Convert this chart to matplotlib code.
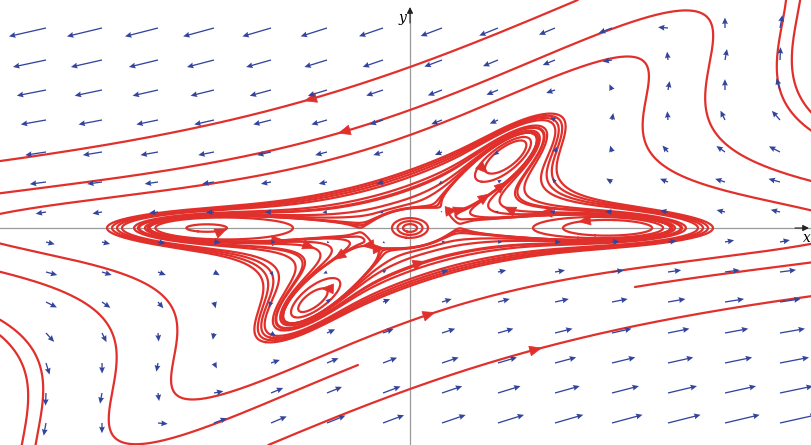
import numpy as np
import matplotlib
matplotlib.use("Agg")
import matplotlib.pyplot as plt

# --- values (data units: 50 px = 1) ---
x_range = [-8.2, 8.04]
y_range = [-4.34, 4.56]

# the two "arms" of the portrait: x-axis and the line y = arm_slope * x
arm_slope = 0.78
coef_x4 = 0.0021
coef_y4 = 0.0886

# the five islands (centres)
well_x = [0.0, -4.6, 4.6, 2.17, -2.17]
well_y = [0.0, 0.0, 0.0, 1.69, -1.69]
well_depth = [0.6, 1.8, 1.8, 1.4, 1.4]
well_long = [0.45, 1.7, 1.7, 1.0, 1.0]
well_wide = [0.25, 0.42, 0.42, 0.5, 0.5]
well_angle = [0.0, 0.0, 0.0, 38.0, 38.0]

# drawn trajectories: a point on each, and how far it runs back / forward
# (None = to the edge of the picture or all the way round)
orbit_x = [0.0, 0.0, 0.0, -1.04, 4.5, 0.0, 0.0, 7.35, -7.35, 7.64, -7.64,
           0.26,
           -6.06, -5.96, -5.86, -5.76,
           -3.66, -2.34, 3.06, 2.46, 1.5, 1.3, -1.66, -1.4,
           0.14, 0.25, 0.36,
           0.8, 1.3, 1.8, 2.3,
           -1.0, -1.6, -2.15]
orbit_y = [3.22, -3.22, 2.36, -2.74, -1.18, 1.86, -1.86, 3.5, -3.5, 3.5, -3.5,
           -0.68,
           0.0, 0.0, 0.0, 0.0,
           0.0, 0.0, 0.0, 0.0, 1.2, 1.06, -1.24, -1.08,
           0.0, 0.0, 0.0,
           0.25, 0.44, 0.6, 0.72,
           -0.32, -0.55, -0.69]
orbit_back = [None, None, None, None, 0.0] + [None] * 29
orbit_fwd = [None, None, None, 0.0, None] + [None] * 29

# where the arrowheads sit on the trajectories
head_x = [-2.06, -1.4, 0.26, 0.44, 2.54, -3.66, -2.56, -1.96, -1.74, -1.4,
          3.4, 2.64, 1.94, 1.5, 1.56, 1.0, -0.54, 0.9, -0.9, 1.9]
head_y = [2.5, 1.9, -0.68, -1.62, -2.18, -0.1, -0.2, -0.44, -1.24, -0.74,
          0.16, 0.3, 0.46, 0.76, 1.16, 0.62, -0.38, 0.45, -0.55, 0.9]

# direction field grid
field_x = [-7.28, -6.16, -5.04, -3.92, -2.78, -1.66, -0.54,
           0.64, 1.76, 2.9, 4.04, 5.16, 6.3, 7.4]
field_y = [4.0, 3.36, 2.76, 2.16, 1.52, 0.92, 0.32,
           -0.28, -0.88, -1.48, -2.1, -2.7, -3.3, -3.9]

red = "#e1302b"
blue = "#33449c"


def energy(x, y):
    p = y * (y - arm_slope * x)
    h = p ** 2 + coef_x4 * x ** 4 + coef_y4 * y ** 4
    for cx, cy, d, a, b, ang in zip(well_x, well_y, well_depth,
                                    well_long, well_wide, well_angle):
        t = np.radians(ang)
        u = (x - cx) * np.cos(t) + (y - cy) * np.sin(t)
        v = -(x - cx) * np.sin(t) + (y - cy) * np.cos(t)
        h = h - d * np.exp(-(u / a) ** 2 - (v / b) ** 2)
    return h


def flow(x, y, eps=1e-4):
    hx = (energy(x + eps, y) - energy(x - eps, y)) / (2 * eps)
    hy = (energy(x, y + eps) - energy(x, y - eps)) / (2 * eps)
    return -hy, hx


# level curves of the energy = trajectories
gx = np.linspace(x_range[0], x_range[1], 1400)
gy = np.linspace(y_range[0], y_range[1], 780)
GX, GY = np.meshgrid(gx, gy)
GH = energy(GX, GY)
orbit_level = energy(np.array(orbit_x), np.array(orbit_y))
uniq = np.unique(orbit_level)
tmp = plt.figure()
allsegs = tmp.add_subplot().contour(GX, GY, GH, levels=uniq).allsegs
plt.close(tmp)

paths = []
for k in range(len(orbit_x)):
    sx, sy = orbit_x[k], orbit_y[k]
    segs = allsegs[int(np.searchsorted(uniq, orbit_level[k]))]
    best = None
    for s in segs:
        if len(s) < 2:
            continue
        d = np.hypot(s[:, 0] - sx, s[:, 1] - sy)
        if best is None or d.min() < best[0]:
            best = (d.min(), s, int(d.argmin()))
    _, s, i = best
    s = s.copy()
    j0, j1 = max(i - 1, 0), min(i + 1, len(s) - 1)
    tu, tv = s[j1] - s[j0]
    fu, fv = flow(sx, sy)
    if tu * fu + tv * fv < 0:
        s = s[::-1]
        i = len(s) - 1 - i
    closed = np.hypot(*(s[0] - s[-1])) < 1e-6
    if closed or (orbit_back[k] is None and orbit_fwd[k] is None):
        paths.append(s)
        continue
    arc = np.concatenate([[0], np.cumsum(np.hypot(*np.diff(s, axis=0).T))])
    lo = -np.inf if orbit_back[k] is None else arc[i] - orbit_back[k]
    hi = np.inf if orbit_fwd[k] is None else arc[i] + orbit_fwd[k]
    keep = (arc >= lo) & (arc <= hi)
    paths.append(s[keep])

fig = plt.figure(figsize=(8.12, 4.45), dpi=100)
ax = fig.add_axes([0, 0, 1, 1])
ax.set_xlim(x_range)
ax.set_ylim(y_range)
ax.axis("off")

# axes
ax.plot(x_range, [0, 0], color="#9a9a9a", lw=0.9, zorder=1)
ax.plot([0, 0], [y_range[0], 4.35], color="#9a9a9a", lw=0.9, zorder=1)
ax.annotate("", xy=(7.98, 0), xytext=(7.7, 0),
            arrowprops=dict(arrowstyle="-|>", color="#222222", lw=0.8,
                            mutation_scale=9, shrinkA=0, shrinkB=0))
ax.annotate("", xy=(0, 4.42), xytext=(0, 4.1),
            arrowprops=dict(arrowstyle="-|>", color="#222222", lw=0.8,
                            mutation_scale=9, shrinkA=0, shrinkB=0))
ax.text(8.02, -0.06, "x", fontsize=10, style="italic", family="DejaVu Serif",
        ha="right", va="top")
ax.text(-0.08, 4.2, "y", fontsize=10, style="italic", family="DejaVu Serif",
        ha="right", va="center")

for s in paths:
    ax.plot(s[:, 0], s[:, 1], color=red, lw=1.6, zorder=2,
            solid_capstyle="round")

pts = np.vstack(paths)
for hx0, hy0 in zip(head_x, head_y):
    i = np.hypot(pts[:, 0] - hx0, pts[:, 1] - hy0).argmin()
    px0, py0 = pts[i]
    u, v = flow(px0, py0)
    n = np.hypot(u, v)
    ax.annotate("", xy=(px0 + 0.05 * u / n, py0 + 0.05 * v / n),
                xytext=(px0 - 0.05 * u / n, py0 - 0.05 * v / n),
                arrowprops=dict(arrowstyle="-|>,head_length=0.6,head_width=0.25",
                                color=red, lw=0.5, mutation_scale=14,
                                shrinkA=0, shrinkB=0), zorder=3)

# direction field
FX, FY = np.meshgrid(field_x, field_y)
U, V = flow(FX, FY)
mag = np.hypot(U, V)
length = 0.07 * mag ** 0.34
ax.quiver(FX, FY, U / mag * length, V / mag * length, angles="xy",
          scale_units="xy", scale=1, pivot="tail", color=blue,
          width=0.0016, headwidth=4.5, headlength=5, headaxislength=4.5,
          zorder=4)

fig.savefig("out.png", dpi=100)
